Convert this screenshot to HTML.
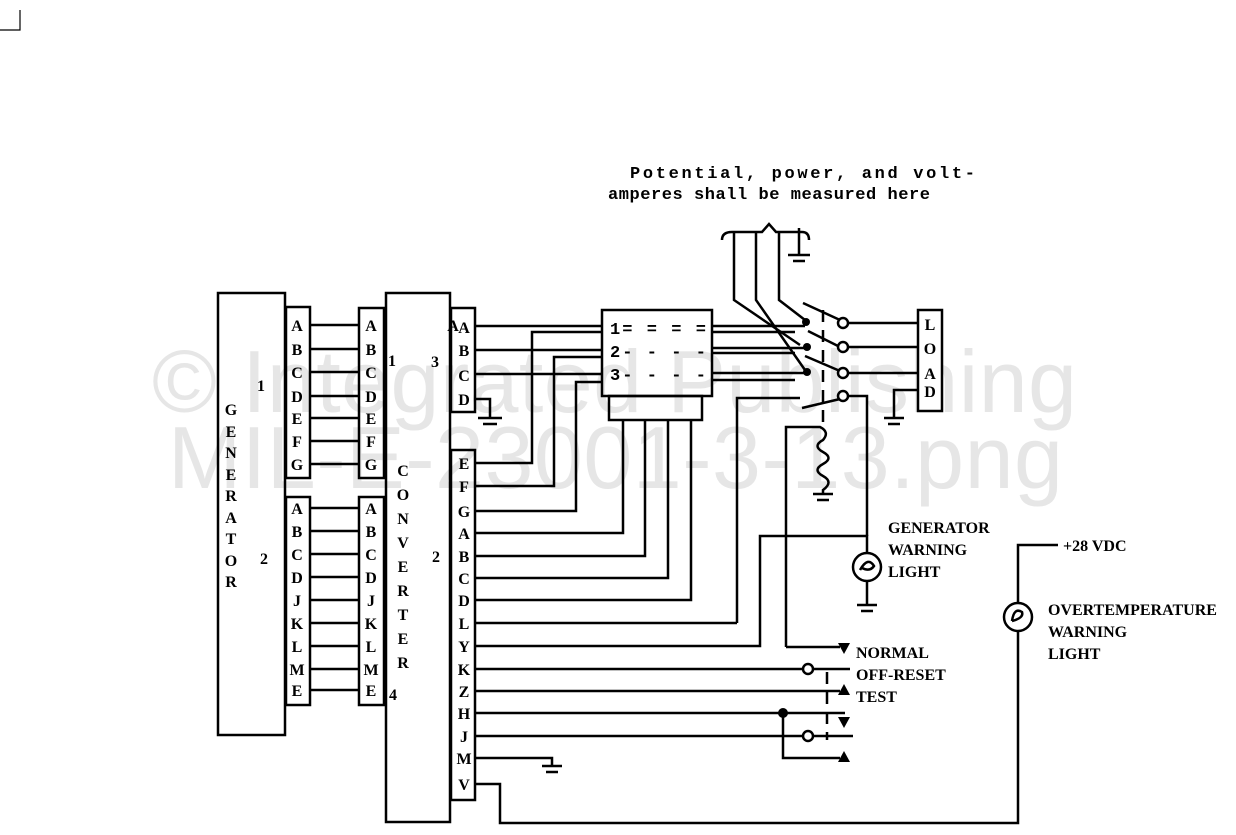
<!DOCTYPE html>
<html><head><meta charset="utf-8"><style>
html,body{margin:0;padding:0;background:#fff;width:1236px;height:835px;overflow:hidden}
svg{display:block}
.p{font-family:"Liberation Serif",serif;font-weight:bold;font-size:16px;text-anchor:middle;fill:#000}
.m{font-family:"Liberation Mono",monospace;font-weight:bold;font-size:17px;fill:#000}
.s{font-family:"Liberation Serif",serif;font-weight:bold;font-size:16px;fill:#000}
.wm{font-family:"Liberation Sans",sans-serif;font-size:88px;fill:#e6e6e6}
</style></head><body>
<svg width="1236" height="835" viewBox="0 0 1236 835" xmlns="http://www.w3.org/2000/svg">
<text class="wm" x="152" y="412" textLength="925">© Integrated Publishing</text>
<text class="wm" x="168" y="488" textLength="895">MIL-E-23001-3-13.png</text>
<g stroke="#000" stroke-width="2.5" fill="none">
<path d="M0 30 H20 V10" stroke-width="1.2"/>
<rect x="218" y="293" width="67" height="442"/>
<rect x="286" y="307" width="24" height="171"/>
<rect x="286" y="497" width="24" height="208"/>
<rect x="386" y="293" width="64" height="529"/>
<rect x="359" y="308" width="25" height="170"/>
<rect x="359" y="497" width="25" height="208"/>
<rect x="451" y="308" width="24" height="104"/>
<rect x="451" y="450" width="24" height="350"/>
<path d="M310 325H359M310 349H359M310 372H359M310 396H359M310 418H359M310 441H359M310 464H359"/>
<path d="M310 508H359M310 531H359M310 554H359M310 577H359M310 600H359M310 623H359M310 646H359M310 669H359M310 690H359"/>
<rect x="602" y="310" width="110" height="86"/>
<rect x="609" y="396" width="93" height="24"/>
<path d="M623 420V533H475M645 420V556H475M668 420V578H475M691 420V600H475"/>
<path d="M475 326H602M475 350H602M475 374H602"/>
<path d="M475 399H490V418M478 418H502M483 424H497"/>
<path d="M475 463H532V332H602M475 486H554V357H602M475 511H576V382H602"/>
<path d="M712 326H805M712 332H795M712 348H805M712 353H795M712 373H805M712 380H795"/>
<path d="M722 240Q722 232 732 232H762L769 224L776 232H802Q809 232 809 240"/>
<path d="M734 232V300L800 345M756 232V300L805 370M779 232V300L805 320"/>
<path d="M799 228V255M788 255H810M793 261H805"/>
<path d="M803 303L840 320M808 331L838 346M805 356L840 371M802 408L840 399"/>
<path d="M823 310V425" stroke-dasharray="12 8"/>
<path d="M848 323H918M848 347H918M848 373H918M848 396H867V536"/>
<path d="M942 390H894V418M884 418H904M888 424H900"/>
<path d="M737 623V398H800"/>
<path d="M786 647V427H820Q830 432 823 440Q812 446 823 452Q834 458 823 464Q812 470 823 476Q834 482 823 490V494M813 494H833M817 500H829"/>
<path d="M475 623H737M475 646H760V536H867V553M867 581V605M857 605H877M861 611H873"/>
<circle cx="867" cy="567" r="14"/>
<path d="M860 570Q868 556 874 566Q870 572 862 568"/>
<path d="M786 647H840M475 669H803M813 669H850M475 691H840M475 713H845M475 736H803M813 736H853M783 713V758H840"/>
<path d="M827 672V740" stroke-dasharray="12 8"/>
<path d="M475 758H552V766M542 766H562M546 772H558"/>
<path d="M475 784H500V823H1018V545H1058"/>
<circle cx="1018" cy="617" r="14" fill="#fff"/>
<path d="M1012 621Q1014 607 1022 612Q1024 618 1012 621"/>
</g>
<g fill="#fff" stroke="#000" stroke-width="2.5">
<circle cx="843" cy="323" r="5"/><circle cx="843" cy="347" r="5"/><circle cx="843" cy="373" r="5"/><circle cx="843" cy="396" r="5"/>
<circle cx="808" cy="669" r="5"/><circle cx="808" cy="736" r="5"/>
<rect x="918" y="310" width="24" height="101"/>
</g>
<g fill="#000">
<circle cx="806" cy="322" r="4"/><circle cx="807" cy="347" r="4"/><circle cx="807" cy="372" r="4"/>
<circle cx="783" cy="713" r="5"/>
<path d="M838 643H850L844 654Z"/><path d="M838 695H850L844 684Z"/><path d="M838 717H850L844 728Z"/><path d="M838 762H850L844 751Z"/>
</g>
<g class="p">
<text x="297" y="331">A</text><text x="297" y="355">B</text><text x="297" y="378">C</text><text x="297" y="402">D</text><text x="297" y="424">E</text><text x="297" y="447">F</text><text x="297" y="470">G</text>
<text x="371" y="331">A</text><text x="371" y="355">B</text><text x="371" y="378">C</text><text x="371" y="402">D</text><text x="371" y="424">E</text><text x="371" y="447">F</text><text x="371" y="470">G</text>
<text x="297" y="514">A</text><text x="297" y="537">B</text><text x="297" y="560">C</text><text x="297" y="583">D</text><text x="297" y="606">J</text><text x="297" y="629">K</text><text x="297" y="652">L</text><text x="297" y="675">M</text><text x="297" y="696">E</text>
<text x="371" y="514">A</text><text x="371" y="537">B</text><text x="371" y="560">C</text><text x="371" y="583">D</text><text x="371" y="606">J</text><text x="371" y="629">K</text><text x="371" y="652">L</text><text x="371" y="675">M</text><text x="371" y="696">E</text>
<text x="464" y="333">A</text><text x="464" y="356">B</text><text x="464" y="381">C</text><text x="464" y="405">D</text>
<text x="464" y="469">E</text><text x="464" y="492">F</text><text x="464" y="517">G</text><text x="464" y="539">A</text><text x="464" y="562">B</text><text x="464" y="584">C</text><text x="464" y="606">D</text><text x="464" y="629">L</text><text x="464" y="652">Y</text><text x="464" y="675">K</text><text x="464" y="697">Z</text><text x="464" y="719">H</text><text x="464" y="742">J</text><text x="464" y="764">M</text><text x="464" y="790">V</text>
<text x="930" y="330">L</text><text x="930" y="354">O</text><text x="930" y="379">A</text><text x="930" y="397">D</text>
<text x="231" y="415">G</text><text x="231" y="437">E</text><text x="231" y="458">N</text><text x="231" y="480">E</text><text x="231" y="501">R</text><text x="231" y="523">A</text><text x="231" y="544">T</text><text x="231" y="566">O</text><text x="231" y="587">R</text>
<text x="403" y="476">C</text><text x="403" y="500">O</text><text x="403" y="524">N</text><text x="403" y="548">V</text><text x="403" y="572">E</text><text x="403" y="596">R</text><text x="403" y="620">T</text><text x="403" y="644">E</text><text x="403" y="668">R</text>
<text x="261" y="391">1</text><text x="264" y="564">2</text><text x="392" y="366">1</text><text x="435" y="367">3</text><text x="436" y="562">2</text><text x="393" y="700">4</text>
<text x="453" y="331">A</text>
</g>
<g class="m">
<text x="610" y="334" textLength="96">1= = = =</text><text x="610" y="357" textLength="96">2- - - -</text><text x="610" y="380" textLength="96">3- - - -</text>
<text x="630" y="178" textLength="345">Potential, power, and volt-</text>
<text x="608" y="199" textLength="322">amperes shall be measured here</text>
</g>
<g class="s">
<text x="888" y="533">GENERATOR</text><text x="888" y="555">WARNING</text><text x="888" y="577">LIGHT</text>
<text x="1063" y="551">+28 VDC</text>
<text x="1048" y="615">OVERTEMPERATURE</text><text x="1048" y="637">WARNING</text><text x="1048" y="659">LIGHT</text>
<text x="856" y="658">NORMAL</text><text x="856" y="680">OFF-RESET</text><text x="856" y="702">TEST</text>
</g>
</svg>
</body></html>
